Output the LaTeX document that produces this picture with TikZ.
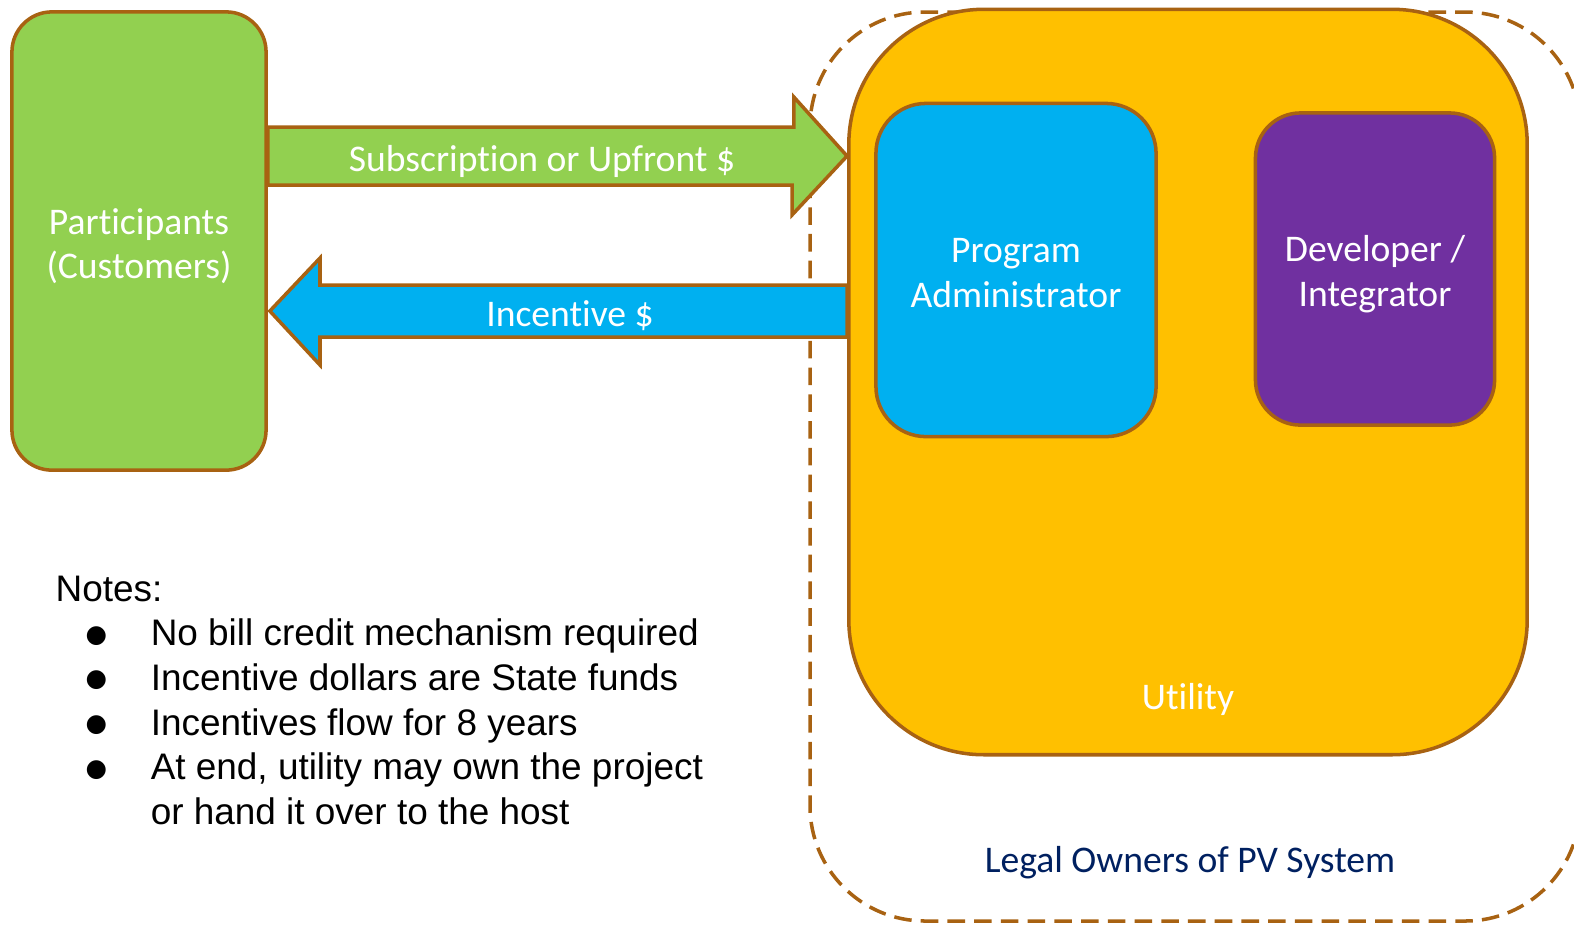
\documentclass[tikz,border=0pt]{standalone}
\usepackage{fontspec}
\setmainfont{Carlito}[Ligatures=NoCommon]
\newfontfamily\notesfont{Liberation Sans}
\newfontfamily\dotfont{DejaVu Sans}
\usetikzlibrary{calc}
\definecolor{partgreen}{HTML}{92D050}
\definecolor{utilgold}{HTML}{FFC000}
\definecolor{adminblue}{HTML}{00B0F0}
\definecolor{devpurple}{HTML}{7030A0}
\definecolor{edgebrown}{RGB}{168,98,18}
\definecolor{ownernavy}{HTML}{002060}
\newcommand{\notebullet}{\makebox[0.95cm][l]{\hspace{0.3cm}\raisebox{1pt}{\dotfont\fontsize{7}{7}\selectfont ●}}}
\begin{document}
\begin{tikzpicture}[x=0.01cm,y=-0.01cm,
  box/.style={rectangle, draw=edgebrown, line width=1pt, text=white, align=center, font=\fontsize{10.7}{12.7}\selectfont},
  flow/.style={draw=edgebrown, line width=1pt, line join=miter},
  flowtext/.style={text=white, font=\fontsize{10.7}{12.7}\selectfont}]
\useasboundingbox (0,0) rectangle (1574,926);
\clip (0,0) rectangle (1574,926);

% legal owners boundary
\draw[edgebrown, line width=1pt, dash pattern=on 5pt off 2.6pt, rounded corners=1.15cm] (810,12) rectangle (1580,921);
\node[text=ownernavy, font=\fontsize{10.7}{12.7}\selectfont] (owners) at (1190,863) {Legal Owners of PV System};

\node[box, fill=partgreen, minimum width=2.54cm, minimum height=4.58cm, rounded corners=0.4cm] (part) at (139,241) {};
\node[flowtext, align=center] (parttext) at (139,246) {Participants\\(Customers)};
\node[box, fill=utilgold, minimum width=6.78cm, minimum height=7.45cm, rounded corners=1.35cm] (util) at (1188,382) {};
\node[flowtext] (utillabel) at (1188,699) {Utility};
\node[box, fill=adminblue, minimum width=2.8cm, minimum height=3.33cm, rounded corners=0.5cm] (admin) at (1016,270) {};
\node[flowtext, align=center] (admintext) at (1016,273) {Program\\Administrator};
\node[box, fill=devpurple, minimum width=2.39cm, minimum height=3.12cm, rounded corners=0.45cm] (dev) at (1375,269) {};
\node[flowtext, align=center] (devtext) at (1375,274) {Developer /\\Integrator};

% money flows
\draw[flow, fill=partgreen] ($(part.east)+(0,-114)$) -- ++(526,0) -- ++(0,-30)
  -- ($(util.west)+(0,-226)$) -- (792,215) -- ++(0,-30) -- ($(part.east)+(0,-56)$) -- cycle;
\node[flowtext] (subtext) at (542,161) {Subscription or Upfront \$};
\draw[flow, fill=adminblue] ($(util.west)+(0,-97)$) -- (320,285) -- ++(0,-27)
  -- ($(part.east)+(2,70)$) -- (320,365) -- ++(0,-28) -- ($(util.west)+(0,-45)$) -- cycle;
\node[flowtext] (inctext) at (570,316) {Incentive \$};

% notes
\node[anchor=north west, inner sep=0pt, align=left, font=\notesfont\fontsize{10.5}{12.7}\selectfont] (notes) at (55,575)
  {Notes:\\
   \notebullet No bill credit mechanism required\\
   \notebullet Incentive dollars are State funds\\
   \notebullet Incentives flow for 8 years\\
   \notebullet At end, utility may own the project\\
   \makebox[0.95cm][l]{}or hand it over to the host};
\end{tikzpicture}
\end{document}
